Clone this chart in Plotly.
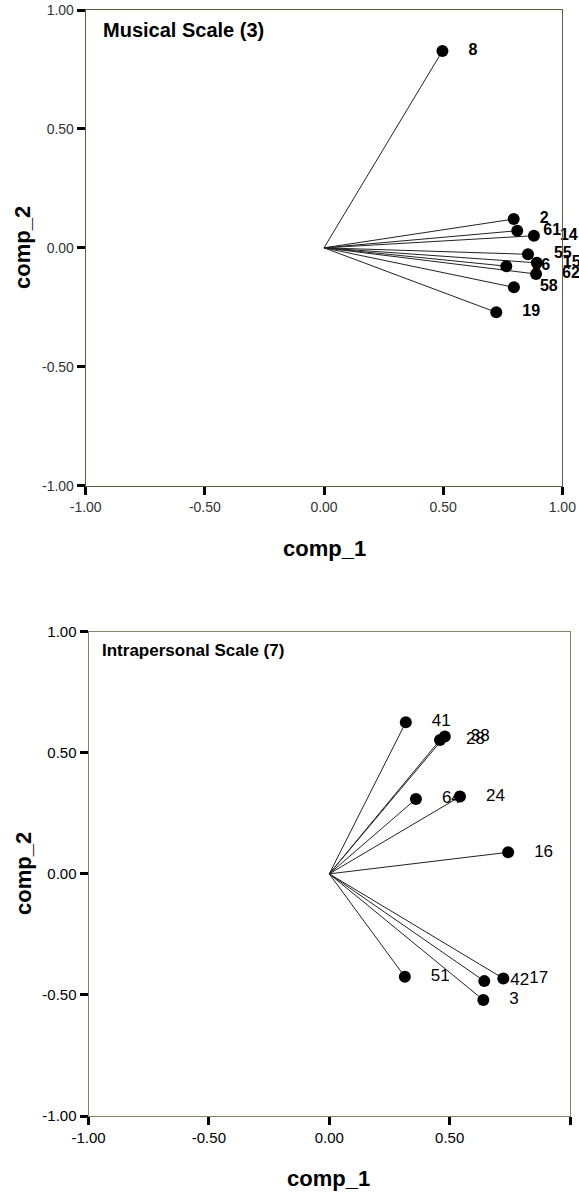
import plotly.graph_objects as go

# ---- data ----
tick_vals = [-1.0, -0.5, 0.0, 0.5, 1.0]
tick_text = ["-1.00", "-0.50", "0.00", "0.50", "1.00"]

musical_labels = ["8", "2", "61", "14", "55", "15", "36", "62", "58", "19"]
musical_x = [0.497, 0.796, 0.811, 0.881, 0.856, 0.893, 0.765, 0.890, 0.797, 0.723]
musical_y = [0.828, 0.121, 0.072, 0.051, -0.027, -0.063, -0.077, -0.110, -0.166, -0.271]

intra_labels = ["41", "28", "38", "64", "24", "16", "51", "42", "17", "3"]
intra_x = [0.318, 0.460, 0.480, 0.360, 0.543, 0.743, 0.314, 0.644, 0.723, 0.640]
intra_y = [0.626, 0.553, 0.567, 0.309, 0.319, 0.089, -0.425, -0.443, -0.432, -0.521]

W, H = 579, 1195
FONT = "Liberation Sans, Arial, sans-serif"

fig = go.Figure()


def add_panel(xs, ys, labels, xa, ya, label_bold, label_size):
    lx, ly = [], []
    for x, y in zip(xs, ys):
        lx += [0, x, None]
        ly += [0, y, None]
    fig.add_trace(go.Scatter(x=lx, y=ly, mode="lines", xaxis=xa, yaxis=ya,
                             line=dict(color="#222222", width=1),
                             hoverinfo="skip", showlegend=False))
    fig.add_trace(go.Scatter(x=xs, y=ys, mode="markers+text", xaxis=xa, yaxis=ya,
                             text=labels, textposition="middle right",
                             textfont=dict(family=FONT, size=label_size, color="black",
                                           weight="bold" if label_bold else "normal"),
                             marker=dict(size=40, color="rgba(0,0,0,0)"),
                             cliponaxis=False, hoverinfo="skip", showlegend=False))
    fig.add_trace(go.Scatter(x=xs, y=ys, mode="markers", xaxis=xa, yaxis=ya,
                             marker=dict(size=12, color="black"),
                             cliponaxis=False, showlegend=False))


add_panel(musical_x, musical_y, musical_labels, "x", "y", True, 16)
add_panel(intra_x, intra_y, intra_labels, "x2", "y2", False, 17)


def axis(domain, anchor, linecolor, font_color, font_size):
    return dict(domain=domain, anchor=anchor, range=[-1, 1], automargin=False,
                tickmode="array", tickvals=tick_vals, ticktext=tick_text,
                ticks="outside", ticklen=8, tickwidth=3, tickcolor="black",
                showgrid=False, zeroline=False, showline=True, mirror=True,
                linecolor=linecolor, linewidth=1,
                tickfont=dict(family=FONT, size=font_size, color=font_color),
                fixedrange=True)


fig.update_layout(
    template="none",
    width=W, height=H, autosize=False,
    margin=dict(l=0, r=0, t=0, b=0, pad=0, autoexpand=False),
    paper_bgcolor="white", plot_bgcolor="white",
    xaxis=axis([85.7 / W, 562.3 / W], "y", "#5e5e3e", "#333333", 14),
    yaxis=axis([1 - 485.7 / H, 1 - 10 / H], "x", "#5e5e3e", "#333333", 14),
    xaxis2=axis([88.5 / W, 570 / W], "y2", "#85856a", "black", 15),
    yaxis2=axis([1 - 1116 / H, 1 - 631.7 / H], "x2", "#85856a", "black", 15),
)

ann = []
def txt(text, x, y, size, angle=0, xanchor="center"):
    ann.append(dict(text=text, x=x / W, y=1 - y / H, xref="paper", yref="paper",
                    showarrow=False, textangle=angle, xanchor=xanchor, yanchor="middle",
                    font=dict(family=FONT, size=size, color="black", weight="bold")))

txt("Musical Scale (3)", 101, 30, 20, xanchor="left")
txt("Intrapersonal Scale (7)", 100, 650, 17, xanchor="left")
txt("comp_2", 23, 248, 22, angle=-90)
txt("comp_1", 324, 548, 22)
txt("comp_2", 23, 874, 22, angle=-90)
txt("comp_1", 329, 1178, 22)
fig.update_layout(annotations=ann)

fig.write_html("out.html", config={"displayModeBar": False},
               post_script="document.body.style.margin='0px';")
